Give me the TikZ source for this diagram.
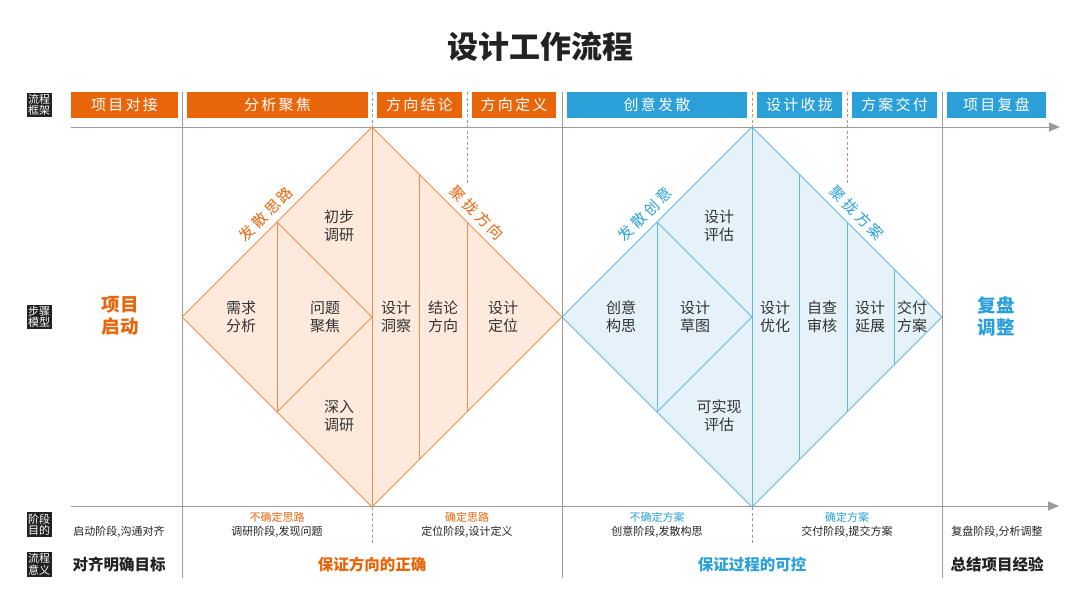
\documentclass[tikz,border=0pt]{standalone}
\usepackage{fontspec}
\setmainfont{Noto Sans CJK SC}
\usetikzlibrary{arrows.meta}

\definecolor{orangeA}{HTML}{E8650A}
\definecolor{orangeL}{HTML}{EE8D4C}
\definecolor{orangeF}{HTML}{FDEADC}
\definecolor{blueA}{HTML}{2A9FD8}
\definecolor{blueL}{HTML}{62B6DF}
\definecolor{blueF}{HTML}{E5F2FA}
\definecolor{grayline}{HTML}{9A9A9A}
\definecolor{dashred}{HTML}{D98A70}
\definecolor{ink}{HTML}{222222}
\definecolor{cellink}{HTML}{333333}

\tikzset{
    bar/.style={fill=#1, text=white, minimum height=26pt, inner sep=0pt,
        font=\fontsize{15}{15}\selectfont\addfontfeatures{LetterSpace=15}},
    tag/.style={fill=ink, text=white, inner sep=1.5pt, align=center,
        font=\fontsize{11}{11.5}\selectfont},
    gline/.style={grayline, line width=0.9pt},
    garrow/.style={gline, -{Triangle[width=9pt,length=11pt]}},
    gdash/.style={#1, line width=0.8pt, dash pattern=on 3pt off 2.5pt},
    dia/.style={draw=#1, line width=0.9pt, line join=miter},
    cell/.style={text=cellink, align=center, inner sep=0pt,
        font=\fontsize{15}{18}\selectfont},
    slant/.style={text=#1, inner sep=0pt,
        font=\fontsize{15}{15}\selectfont\addfontfeatures{LetterSpace=20}},
    big/.style={text=#1, align=center, inner sep=0pt,
        font=\fontsize{18.5}{22}\selectfont\bfseries},
    small/.style={text=#1, inner sep=0pt, font=\fontsize{11}{11}\selectfont},
    mean/.style={text=#1, inner sep=0pt, font=\fontsize{15.5}{15.5}\selectfont\bfseries}
}

\begin{document}
\begin{tikzpicture}[x=1pt, y=-1pt]
    \useasboundingbox (0,0) rectangle (1080,608);

    % title
    \node[text=ink, font=\fontsize{31}{31}\selectfont\bfseries] (title) at (540,47) {设计工作流程};

    % side tags
    \node[tag] (tagframe) at (39,105) {流程\\框架};
    \node[tag] (tagmodel) at (39,317) {步骤\\模型};
    \node[tag] (tagaim) at (39,524.5) {阶段\\目的};
    \node[tag] (tagmean) at (39,564.5) {流程\\意义};

    % header bars
    \node[bar=orangeA, minimum width=107pt] (bar1) at (124.5,105) {项目对接};
    \node[bar=orangeA, minimum width=181pt] (bar2) at (277.5,105) {分析聚焦};
    \node[bar=orangeA, minimum width=85pt] (bar3) at (419.5,105) {方向结论};
    \node[bar=orangeA, minimum width=84pt] (bar4) at (514,105) {方向定义};
    \node[bar=blueA, minimum width=180pt] (bar5) at (657,105) {创意发散};
    \node[bar=blueA, minimum width=85pt] (bar6) at (799.5,105) {设计收拢};
    \node[bar=blueA, minimum width=85pt] (bar7) at (894.5,105) {方案交付};
    \node[bar=blueA, minimum width=99pt] (bar8) at (996.5,105) {项目复盘};

    % axes and separators
    \coordinate (topL) at (71,127);
    \coordinate (topR) at (1060,127);
    \coordinate (botL) at (71,506);
    \coordinate (botR) at (1059,506);
    \draw[garrow] (topL) -- (topR);
    \draw[garrow] (botL) -- (botR);
    \draw[gline] (182,92) -- (182,578);
    \draw[gline] (562,92) -- (562,578);
    \draw[gline] (942,92) -- (942,578);
    \draw[gdash=grayline] (372,92) -- (372,127);
    \draw[gdash=grayline] (467,92) -- (467,183);
    \draw[gdash=dashred] (752,92) -- (752,127);
    \draw[gdash=dashred] (847,92) -- (847,183);
    \draw[gdash=grayline] (372,507) -- (372,543);
    \draw[gdash=grayline] (752,507) -- (752,543);

    % orange diamond
    \draw[dia=orangeL, fill=orangeF] (182,317) -- (372,127) -- (562,317) -- (372,507) -- cycle;
    \draw[dia=orangeL] (372,127) -- (372,507);
    \draw[dia=orangeL] (277,222) -- (277,412);
    \draw[dia=orangeL] (277,222) -- (372,317) -- (277,412);
    \draw[dia=orangeL] (419,174) -- (419,460);
    \draw[dia=orangeL] (467,222) -- (467,412);

    % blue diamond
    \draw[dia=blueL, fill=blueF] (562,317) -- (752,127) -- (942,317) -- (752,507) -- cycle;
    \draw[dia=blueL] (752,127) -- (752,507);
    \draw[dia=blueL] (657,222) -- (657,412);
    \draw[dia=blueL] (657,222) -- (752,317) -- (657,412);
    \draw[dia=blueL] (799,174) -- (799,460);
    \draw[dia=blueL] (847,222) -- (847,412);
    \draw[dia=blueL] (894,269) -- (894,365);

    % edge labels
    \node[slant=orangeA, rotate=45] (divA) at (266,214) {发散思路};
    \node[slant=orangeA, rotate=-45] (conA) at (477,213) {聚拢方向};
    \node[slant=blueA, rotate=45] (divB) at (645,214) {发散创意};
    \node[slant=blueA, rotate=-45] (conB) at (857,213) {聚拢方案};

    % start and end
    \node[big=orangeA] (start) at (120,316) {项目\\启动};
    \node[big=blueA] (review) at (996,316) {复盘\\调整};

    % orange cells
    \node[cell] (c1) at (241,317) {需求\\分析};
    \node[cell] (c2) at (325,317) {问题\\聚焦};
    \node[cell] (c3) at (339,226) {初步\\调研};
    \node[cell] (c4) at (339,416) {深入\\调研};
    \node[cell] (c5) at (396,317) {设计\\洞察};
    \node[cell] (c6) at (443,317) {结论\\方向};
    \node[cell] (c7) at (503,317) {设计\\定位};

    % blue cells
    \node[cell] (d1) at (621,317) {创意\\构思};
    \node[cell] (d2) at (695,317) {设计\\草图};
    \node[cell] (d3) at (719,226) {设计\\评估};
    \node[cell] (d4) at (719,416) {可实现\\评估};
    \node[cell] (d5) at (775,317) {设计\\优化};
    \node[cell] (d6) at (822,317) {自查\\审核};
    \node[cell] (d7) at (870,317) {设计\\延展};
    \node[cell] (d8) at (912,317) {交付\\方案};

    % stage aims
    \node[small=orangeA] (s1) at (277,517) {不确定思路};
    \node[small=orangeA] (s2) at (467,517) {确定思路};
    \node[small=blueA] (s3) at (657,517) {不确定方案};
    \node[small=blueA] (s4) at (847,517) {确定方案};
    \node[small=ink] (a0) at (119,532) {启动阶段,沟通对齐};
    \node[small=ink] (a1) at (277,532) {调研阶段,发现问题};
    \node[small=ink] (a2) at (467,532) {定位阶段,设计定义};
    \node[small=ink] (a3) at (657,532) {创意阶段,发散构思};
    \node[small=ink] (a4) at (847,532) {交付阶段,提交方案};
    \node[small=ink] (a5) at (997,532) {复盘阶段,分析调整};

    % meanings
    \node[mean=ink] (m1) at (119,565) {对齐明确目标};
    \node[mean=orangeA] (m2) at (372,565) {保证方向的正确};
    \node[mean=blueA] (m3) at (752,565) {保证过程的可控};
    \node[mean=ink] (m4) at (997,565) {总结项目经验};
\end{tikzpicture}
\end{document}
